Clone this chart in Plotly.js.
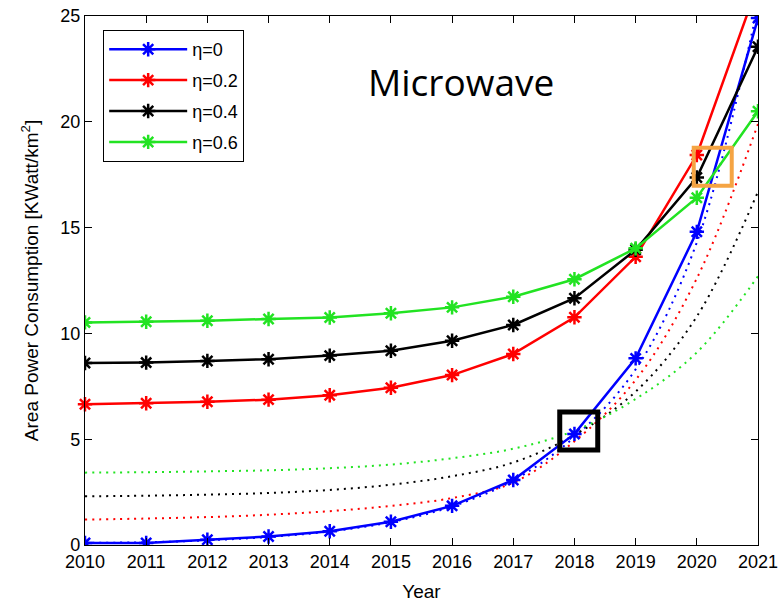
<!DOCTYPE html>
<html><head><meta charset="utf-8">
<script src="https://cdn.plot.ly/plotly-3.0.1.min.js"></script>
<style>html,body{margin:0;padding:0;background:#fff}#chart{width:782px;height:603px}</style>
</head><body><div id="chart"></div>
<script>
// ---- data ----
const years = [2010, 2011, 2012, 2013, 2014, 2015, 2016, 2017, 2018, 2019, 2020, 2021];
const seriesNames = ['η=0', 'η=0.2', 'η=0.4', 'η=0.6'];
const seriesColors = ['#0000ff', '#ff0000', '#000000', '#22e322'];

// solid (model) curves
const eta00 = [0.10, 0.10, 0.25, 0.40, 0.65, 1.10, 1.85, 3.07, 5.25, 8.82, 14.80, 24.90];
const eta02 = [6.65, 6.70, 6.77, 6.87, 7.08, 7.43, 8.03, 9.03, 10.76, 13.62, 18.43, 26.50];
const eta04 = [8.60, 8.62, 8.70, 8.78, 8.95, 9.18, 9.65, 10.40, 11.66, 13.95, 17.37, 23.55];
const eta06 = [10.52, 10.55, 10.60, 10.68, 10.75, 10.95, 11.23, 11.73, 12.56, 14.02, 16.41, 20.50];

// dotted (fitted) curves
const eta00Fit = [0.10, 0.13, 0.22, 0.38, 0.64, 1.08, 1.82, 3.05, 5.10, 8.30, 14.30, 25.50];
const eta02Fit = [1.20, 1.25, 1.32, 1.43, 1.60, 1.85, 2.22, 2.95, 4.90, 7.80, 12.60, 19.90];
const eta04Fit = [2.30, 2.33, 2.38, 2.46, 2.60, 2.85, 3.25, 3.90, 5.20, 7.25, 10.80, 16.70];
const eta06Fit = [3.42, 3.44, 3.48, 3.53, 3.63, 3.80, 4.10, 4.55, 5.40, 6.90, 9.10, 12.70];

const yTicks = [0, 5, 10, 15, 20, 25];
const chartLabel = 'Microwave';
const xTitle = 'Year';
const yTitle = 'Area Power Consumption [KWatt/km<sup>2</sup>]';

// highlighted regions (data anchor of each box)
const blackBoxAt = {year: 2018.07, value: 5.39};
const orangeBoxAt = {year: 2020.26, value: 17.88};

// ---- build traces ----
const solid = [eta00, eta02, eta04, eta06];
const fits = [eta00Fit, eta02Fit, eta04Fit, eta06Fit];
const font = '"Liberation Sans", Arial, sans-serif';

const traces = [];
// dotted first so solid lines sit on top
fits.forEach((ys, i) => {
  traces.push({
    x: years, y: ys, type: 'scatter', mode: 'lines',
    line: {color: seriesColors[i], width: 2, dash: '2px,5px', shape: 'spline', smoothing: 1},
    showlegend: false, hoverinfo: 'skip'
  });
});
solid.forEach((ys, i) => {
  traces.push({
    x: years, y: ys, type: 'scatter', mode: 'lines+markers',
    name: seriesNames[i], legendgroup: 'g' + i,
    line: {color: seriesColors[i], width: 2.5},
    marker: {symbol: 'asterisk-open', size: 12, color: seriesColors[i],
             line: {color: seriesColors[i], width: 2.5}},
    cliponaxis: i !== 1
  });
});

function box(at, half, color, w) {
  return {type: 'rect', xref: 'x', yref: 'y', xsizemode: 'pixel', ysizemode: 'pixel',
          xanchor: at.year, yanchor: at.value, x0: -half, x1: half, y0: -half, y1: half,
          line: {color: color, width: w}, fillcolor: 'rgba(0,0,0,0)'};
}

const layout = {
  width: 782, height: 603,
  margin: {l: 85, r: 24, t: 16, b: 58},
  paper_bgcolor: '#fff', plot_bgcolor: '#fff',
  font: {family: font, color: '#000', size: 18},
  showlegend: true,
  legend: {x: 0.027, y: 0.9735, xanchor: 'left', yanchor: 'top',
           bordercolor: '#000', borderwidth: 1, bgcolor: '#fff',
           font: {family: font, size: 18, color: '#000'},
           itemwidth: 78, tracegroupgap: 4.5, traceorder: 'grouped'},
  xaxis: {range: [2010, 2021], tickvals: years, ticktext: years.map(String),
          showgrid: false, zeroline: false, showline: true, linecolor: '#000', linewidth: 1.2,
          mirror: 'ticks', ticks: 'inside', ticklen: 7, tickwidth: 1, tickcolor: '#000',
          tickfont: {family: font, size: 18},
          title: {text: xTitle, font: {family: font, size: 19}, standoff: 14}},
  yaxis: {range: [0, 25], tickvals: yTicks,
          showgrid: false, zeroline: false, showline: true, linecolor: '#000', linewidth: 1.2,
          mirror: 'ticks', ticks: 'inside', ticklen: 7, tickwidth: 1, tickcolor: '#000',
          tickfont: {family: font, size: 18},
          title: {text: yTitle, font: {family: font, size: 19}, standoff: 16}},
  annotations: [{text: chartLabel, xref: 'paper', yref: 'paper', x: 0.5587, y: 0.877,
                 xanchor: 'center', yanchor: 'middle', showarrow: false,
                 font: {family: '"Open Sans", "Noto Sans", sans-serif', size: 37, color: '#000'}}],
  shapes: [box(blackBoxAt, 19, '#000', 5), box(orangeBoxAt, 19, '#f5a443', 4)]
};

Plotly.newPlot('chart', traces, layout, {displayModeBar: false, staticPlot: true});
</script></body></html>
